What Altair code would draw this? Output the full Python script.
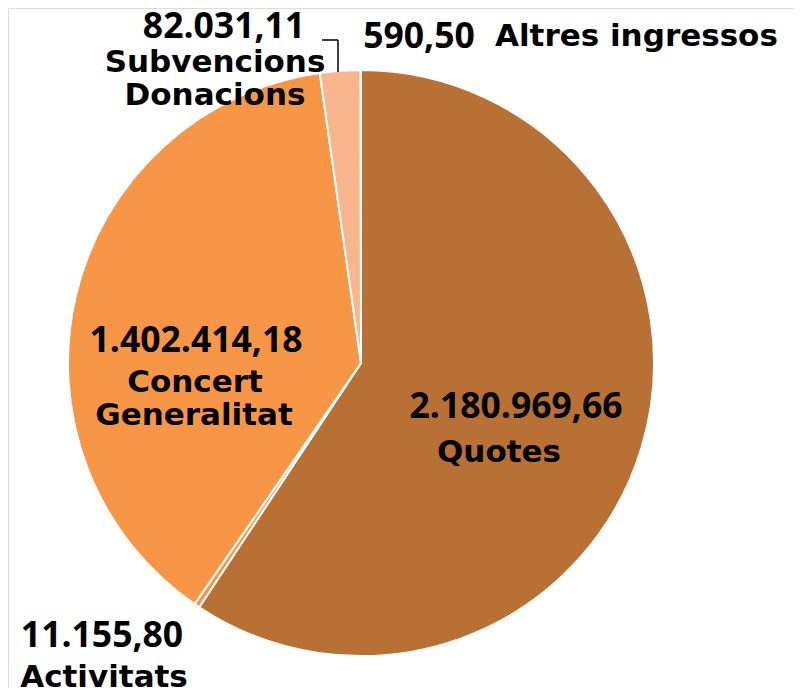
import altair as alt
import pandas as pd

categories = ["Quotes", "Activitats", "Concert Generalitat", "Subvencions Donacions", "Altres ingressos"]
values = [2180969.66, 11155.80, 1402414.18, 82031.11, 590.50]
value_labels = ["2.180.969,66", "11.155,80", "1.402.414,18", "82.031,11", "590,50"]
colors = ["#B97034", "#F79646", "#F79646", "#F9B58B", "#F9B58B"]

df = pd.DataFrame({"cat": categories, "val": values, "order": list(range(len(values)))})

CX, CY, R = 353, 355, 293
W, H = 786, 680

shadow_df = pd.DataFrame({"k": [1]})
shadows = []
for r, op in [(R + 6, 0.05), (R + 4, 0.08), (R + 2, 0.12)]:
    shadows.append(
        alt.Chart(shadow_df).mark_circle(color="#000000", opacity=op).encode(
            x=alt.value(CX - 2), y=alt.value(CY + 4), size=alt.value(3.14159 * r * r)
        )
    )

pie = alt.Chart(df).mark_arc(outerRadius=R, stroke="white", strokeWidth=2).encode(
    theta=alt.Theta("val:Q", stack=True),
    order=alt.Order("order:Q"),
    color=alt.Color("cat:N", scale=alt.Scale(domain=categories, range=colors), legend=None),
    x=alt.value(CX), y=alt.value(CY),
)

def txt(text, x, y, font, size, align="center"):
    return alt.Chart(pd.DataFrame({"t": [text]})).mark_text(
        font=font, fontSize=size, fontWeight="bold", align=align, baseline="alphabetic", color="#000000"
    ).encode(text="t:N", x=alt.value(x), y=alt.value(y))

NUM = "Open Sans"
LAB = "DejaVu Sans"
NS, LS = 35.5, 31
o = 8
texts = [
    txt(value_labels[0], 516 - o, 418 - o, NUM, NS),
    txt("Quotes", 499 - o, 462 - o, LAB, LS),
    txt(value_labels[2], 196 - o, 352 - o, NUM, NS),
    txt("Concert", 195 - o, 392 - o, LAB, LS),
    txt("Generalitat", 194 - o, 425 - o, LAB, LS),
    txt(value_labels[3], 224 - o, 38 - o, NUM, NS),
    txt("Subvencions", 215 - o, 72 - o, LAB, LS),
    txt("Donacions", 215 - o, 105 - o, LAB, LS),
    txt(value_labels[4], 419 - o, 48 - o, NUM, NS),
    txt("Altres ingressos", 495 - o, 46 - o, LAB, LS, align="left"),
    txt(value_labels[1], 102 - o, 647 - o, NUM, NS),
    txt("Activitats", 104 - o, 687 - o, LAB, LS),
]

leader_df = pd.DataFrame({"k": [1]})
leader_h = alt.Chart(leader_df).mark_rule(color="#000000", strokeWidth=1.5).encode(
    x=alt.value(322 - o), x2=alt.value(338 - o), y=alt.value(40 - o)
)
leader_v = alt.Chart(leader_df).mark_rule(color="#000000", strokeWidth=1.5).encode(
    x=alt.value(338 - o), y=alt.value(40 - o), y2=alt.value(72 - o)
)

chart = alt.layer(*shadows, pie, leader_h, leader_v, *texts).properties(
    width=W, height=H, autosize=alt.AutoSizeParams(type="none"), padding=0
).configure_view(stroke=None).configure(background="white")

chart.save("out.html", embed_options={"renderer": "svg", "actions": False})
